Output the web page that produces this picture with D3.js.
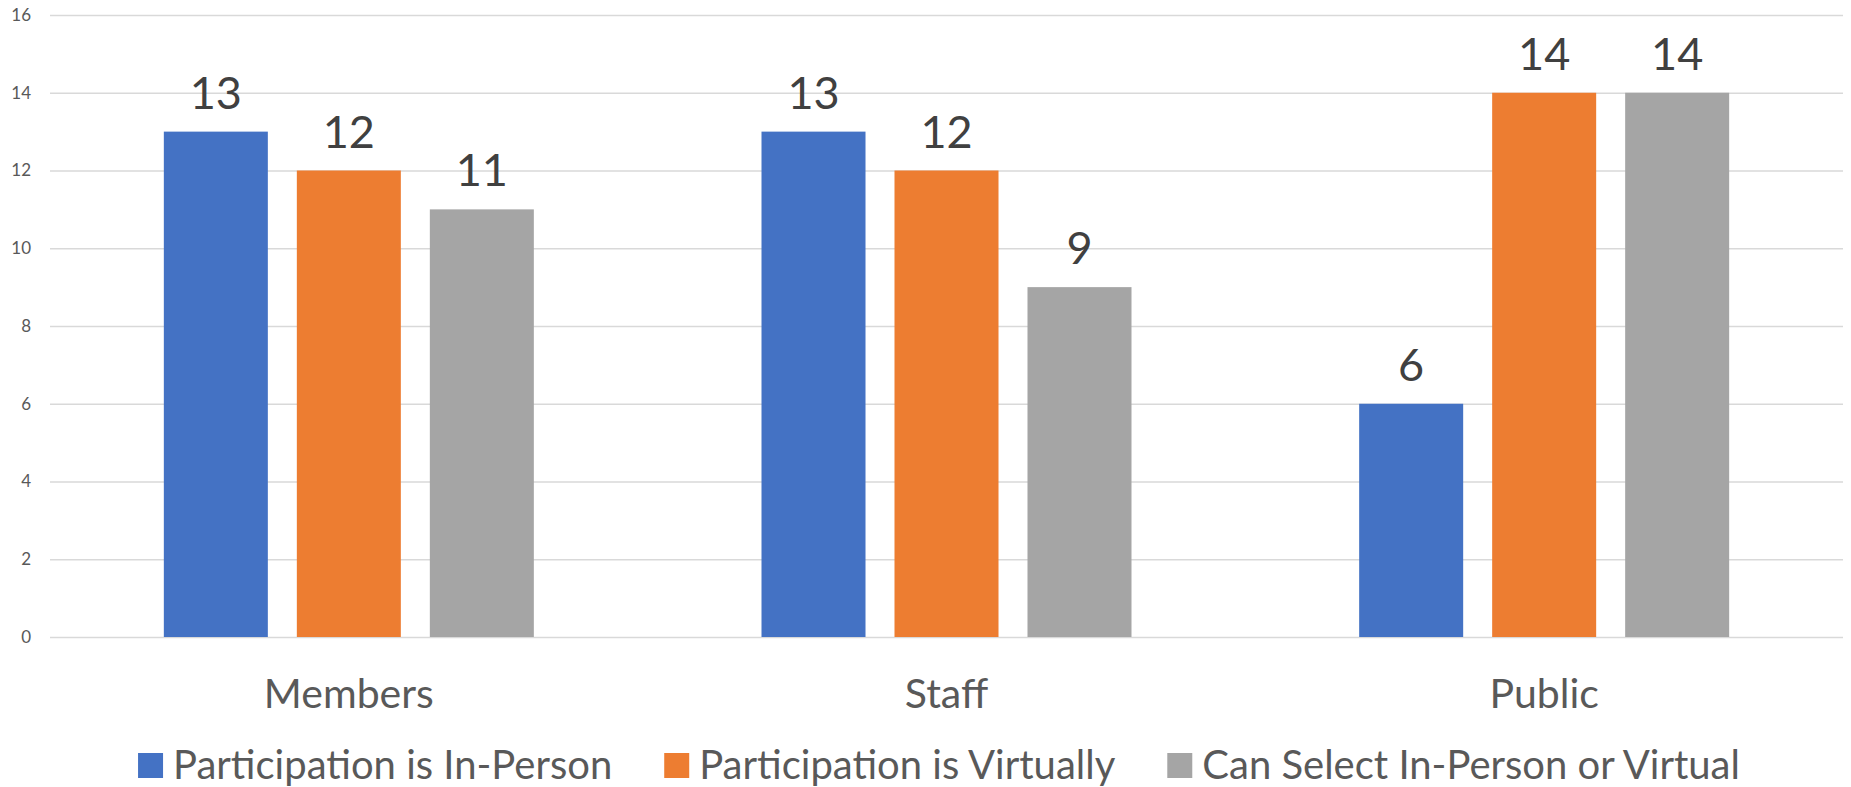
<!DOCTYPE html>
<html>
<head>
<meta charset="utf-8">
<script src="https://cdn.jsdelivr.net/npm/d3@7"></script>
<style>
  html, body { margin: 0; padding: 0; background: #ffffff; }
  svg { display: block; }
  text { font-family: Lato, "Open Sans", sans-serif; }
</style>
</head>
<body>
<svg id="chart" width="1851" height="787"></svg>
<script>
const categories = ["Members", "Staff", "Public"];
const seriesNames = ["Participation is In-Person", "Participation is Virtually", "Can Select In-Person or Virtual"];
const inPerson = [13, 13, 6];
const virtually = [12, 12, 14];
const canSelect = [11, 9, 14];
const yTicks = [0, 2, 4, 6, 8, 10, 12, 14, 16];
const colors = ["#4472C4", "#ED7D31", "#A5A5A5"];

const seriesValues = [inPerson, virtually, canSelect];
const plot = { left: 50, right: 1843, top: 15, bottom: 637 };
const groupWidth = 370;

const svg = d3.select("#chart");

const y = d3.scaleLinear().domain([0, 16]).range([plot.bottom, plot.top]);
const x0 = d3.scaleBand().domain(categories).range([plot.left, plot.right]).padding(0);
const x1 = d3.scaleBand().domain(seriesNames)
  .range([(x0.bandwidth() - groupWidth) / 2, (x0.bandwidth() + groupWidth) / 2])
  .paddingInner(0.218).paddingOuter(0);

// gridlines
const yAxis = d3.axisLeft(y).tickValues(yTicks).tickSize(-(plot.right - plot.left)).tickPadding(19);
const gy = svg.append("g").attr("transform", `translate(${plot.left},0)`).call(yAxis);
gy.select(".domain").remove();
gy.selectAll(".tick line").attr("stroke", "#d9d9d9").attr("stroke-width", 1.5);
gy.selectAll(".tick text").attr("fill", "#595959").style("font-size", "17px").style("font-family", "Lato, sans-serif");

// bars
const groups = svg.append("g").selectAll("g")
  .data(categories)
  .join("g")
  .attr("transform", d => `translate(${x0(d)},0)`);

groups.selectAll("rect")
  .data((c, ci) => seriesNames.map((s, si) => ({ s, si, v: seriesValues[si][ci] })))
  .join("rect")
  .attr("x", d => x1(d.s))
  .attr("width", x1.bandwidth())
  .attr("y", d => y(d.v))
  .attr("height", d => y(0) - y(d.v))
  .attr("fill", d => colors[d.si]);

groups.selectAll("text.val")
  .data((c, ci) => seriesNames.map((s, si) => ({ s, si, v: seriesValues[si][ci] })))
  .join("text")
  .attr("class", "val")
  .attr("x", d => x1(d.s) + x1.bandwidth() / 2)
  .attr("y", d => y(d.v) - 23)
  .attr("text-anchor", "middle")
  .attr("fill", "#404040")
  .style("font-size", "45px")
  .text(d => d.v);

// category axis labels
const xAxis = d3.axisBottom(x0).tickSize(0).tickPadding(0);
const gx = svg.append("g").attr("transform", `translate(0,${plot.bottom})`).call(xAxis);
gx.select(".domain").remove();
gx.selectAll(".tick text")
  .attr("y", 71).attr("dy", null)
  .attr("fill", "#595959")
  .style("font-size", "41px")
  .style("font-family", "Lato, sans-serif");

// legend
const legend = svg.append("g");
const items = legend.selectAll("g").data(seriesNames).join("g");
items.append("rect").attr("width", 25).attr("height", 25).attr("y", 753).attr("fill", (d, i) => colors[i]);
items.append("text").attr("x", 35).attr("y", 779).attr("fill", "#595959").style("font-size", "40px").text(d => d);
let widths = [];
items.each(function () { widths.push(35 + this.querySelector("text").getComputedTextLength()); });
const gap = 52;
const total = d3.sum(widths) + gap * (widths.length - 1);
let cx = 939 - total / 2;
items.each(function (d, i) {
  d3.select(this).attr("transform", `translate(${cx},0)`);
  cx += widths[i] + gap;
});
</script>
</body>
</html>
